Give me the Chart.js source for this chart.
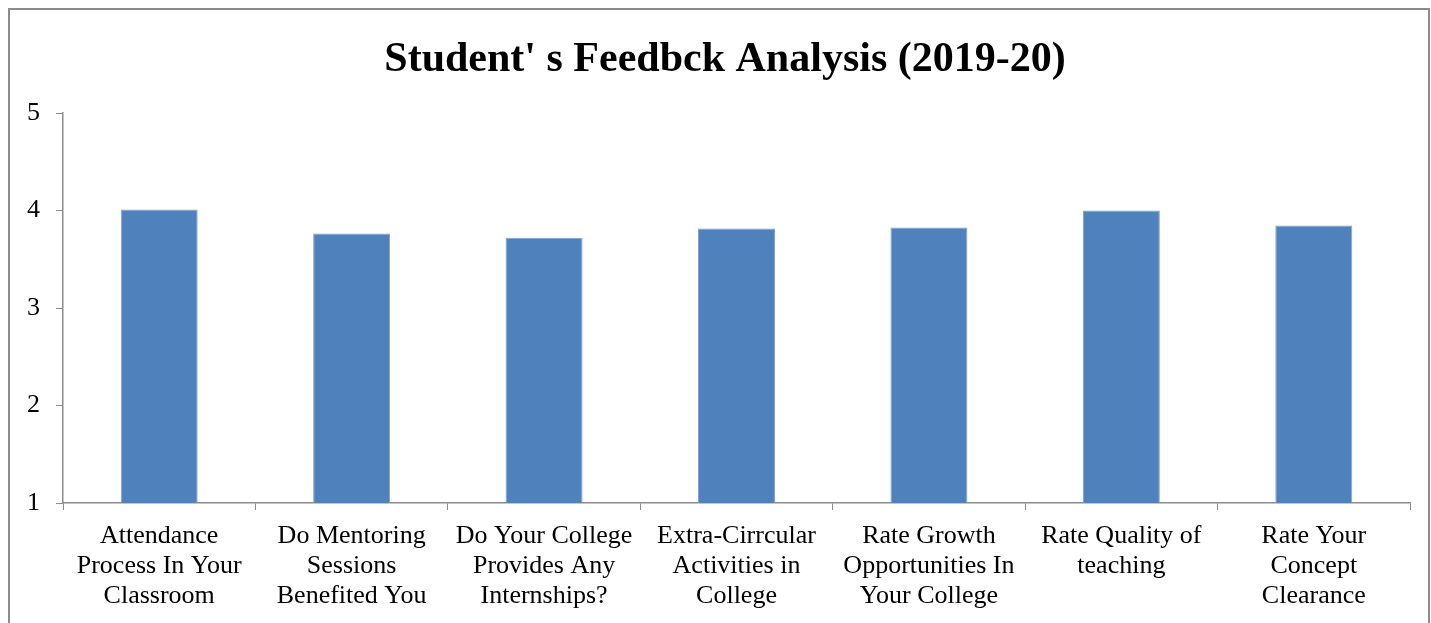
<!DOCTYPE html>
<html lang="en">
<head>
    <meta charset="UTF-8">
    <title>Student' s Feedbck Analysis (2019-20)</title>
    <script src="https://cdn.jsdelivr.net/npm/chart.js"></script>
    <style>
        html, body {
            margin: 0;
            padding: 0;
            background: #fff;
            overflow: hidden;
        }
        .frame {
            position: absolute;
            left: 8px;
            top: 8px;
            width: 1418px;
            height: 630px;
            border-left: 2px solid #8c8c8c;
            border-top: 2px solid #8c8c8c;
            border-right: 2px solid #8c8c8c;
        }
        .wrap {
            position: absolute;
            left: 0;
            top: 0;
            width: 1431px;
            height: 623px;
        }
    </style>
</head>
<body>
    <div class="frame"></div>
    <div class="wrap">
        <canvas id="feedbackChart" width="1431" height="623"></canvas>
    </div>

    <script>
        const chartTitle = "Student' s Feedbck Analysis (2019-20)";
        const categories = [
            ['Attendance', 'Process In Your', 'Classroom'],
            ['Do Mentoring', 'Sessions', 'Benefited You'],
            ['Do Your College', 'Provides Any', 'Internships?'],
            ['Extra-Cirrcular', 'Activities in', 'College'],
            ['Rate Growth', 'Opportunities In', 'Your College'],
            ['Rate Quality of', 'teaching'],
            ['Rate Your', 'Concept', 'Clearance']
        ];
        const ratings = [4.01, 3.765, 3.72, 3.815, 3.825, 4.0, 3.845];
        const yTicks = [1, 2, 3, 4, 5];

        const serif = 'Liberation Serif, Times New Roman, serif';

        // title sits a bit right of the canvas centre, like the original
        const titlePlugin = {
            id: 'offsetTitle',
            afterDraw(chart) {
                const c = chart.ctx;
                c.save();
                c.font = 'bold 42px ' + serif;
                c.fillStyle = '#000';
                c.textAlign = 'center';
                c.textBaseline = 'middle';
                c.fillText(chartTitle, 725, 60);
                c.restore();
            }
        };

        const ctx = document.getElementById('feedbackChart').getContext('2d');
        new Chart(ctx, {
            type: 'bar',
            data: {
                labels: categories,
                datasets: [{
                    label: 'Rating',
                    data: ratings,
                    backgroundColor: '#4F81BD',
                    borderColor: '#7EA2CF',
                    borderWidth: { top: 1, left: 1, right: 1, bottom: 0 },
                    barPercentage: 0.4,
                    categoryPercentage: 1.0
                }]
            },
            options: {
                responsive: false,
                animation: false,
                layout: { padding: { left: 0, right: 21, top: 113, bottom: 0 } },
                plugins: {
                    legend: { display: false },
                    tooltip: { enabled: false },
                    title: { display: false }
                },
                scales: {
                    x: {
                        grid: { display: true, drawOnChartArea: false, drawTicks: true, tickLength: 7, color: '#8c8c8c', offset: true },
                        border: { color: '#8c8c8c', width: 1.5 },
                        ticks: {
                            color: '#000',
                            maxRotation: 0,
                            autoSkip: false,
                            padding: 11,
                            font: { family: serif, size: 26, lineHeight: 1.16 }
                        },
                        afterFit: scale => { scale.height = 120; }
                    },
                    y: {
                        min: 1,
                        max: 5,
                        afterBuildTicks: scale => { scale.ticks = yTicks.map(v => ({ value: v })); },
                        grid: { display: true, drawOnChartArea: false, drawTicks: true, tickLength: 7, color: '#8c8c8c' },
                        border: { color: '#8c8c8c', width: 1.5 },
                        ticks: {
                            color: '#000',
                            padding: 16,
                            font: { family: serif, size: 26 }
                        },
                        afterFit: scale => { scale.width = 63; }
                    }
                }
            },
            plugins: [titlePlugin]
        });
    </script>
</body>
</html>
